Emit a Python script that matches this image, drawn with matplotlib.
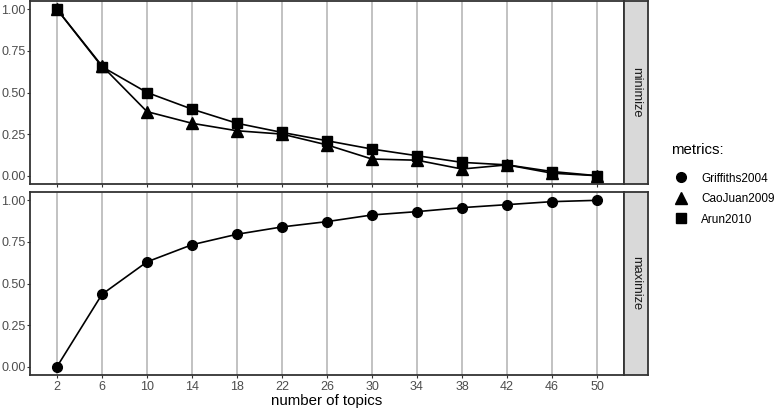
import matplotlib
matplotlib.use("Agg")
import matplotlib.pyplot as plt
from matplotlib.lines import Line2D

plt.rcParams['font.family'] = ['Liberation Sans', 'DejaVu Sans']

topics = [2, 6, 10, 14, 18, 22, 26, 30, 34, 38, 42, 46, 50]
griffiths2004 = [0.0, 0.435, 0.63, 0.733, 0.796, 0.84, 0.872, 0.912, 0.932, 0.956, 0.974, 0.992, 1.0]
caojuan2009 = [1.0, 0.66, 0.385, 0.315, 0.27, 0.25, 0.185, 0.10, 0.093, 0.04, 0.065, 0.015, 0.0]
arun2010 = [1.0, 0.655, 0.50, 0.40, 0.315, 0.26, 0.21, 0.16, 0.12, 0.08, 0.065, 0.025, 0.0]
yticks = [0.0, 0.25, 0.5, 0.75, 1.0]
ytick_labels = ["0.00", "0.25", "0.50", "0.75", "1.00"]
facets = ["minimize", "maximize"]
metric_names = ["Griffiths2004", "CaoJuan2009", "Arun2010"]

W, H = 778, 412
fig = plt.figure(figsize=(W / 100, H / 100), dpi=100)

def px(x0, y0, x1, y1):
    return [x0 / W, 1 - y1 / H, (x1 - x0) / W, (y1 - y0) / H]

panels = [(1, 184), (192, 375)]
border = "#333333"
grid_c = "#BDBDBD"

axes = []
for i, (y0, y1) in enumerate(panels):
    ax = fig.add_axes(px(30, y0, 624, y1))
    ax.set_xlim(-0.4, 52.4)
    ax.set_ylim(-0.05, 1.05)
    ax.set_yticks(yticks)
    ax.set_yticklabels(ytick_labels)
    ax.set_xticks(topics)
    ax.grid(axis='x', color=grid_c, linewidth=1.3, zorder=0)
    ax.set_axisbelow(True)
    for s in ax.spines.values():
        s.set_color(border)
        s.set_linewidth(1.3)
    ax.tick_params(axis='both', colors=border, length=2, width=0.8,
                   labelsize=9, labelcolor="#4D4D4D", pad=1.2)
    ax.tick_params(axis='x', pad=2)
    if i == 0:
        ax.tick_params(axis='x', labelbottom=False)
    axes.append(ax)
    sax = fig.add_axes(px(624, y0, 648, y1))
    sax.set_xticks([]); sax.set_yticks([])
    sax.set_facecolor("#D9D9D9")
    for s in sax.spines.values():
        s.set_color(border)
        s.set_linewidth(1.3)
    sax.text(0.5, 0.5, facets[i], rotation=-90, ha='center', va='center',
             fontsize=9.3, color="#1A1A1A", transform=sax.transAxes)

top, bot = axes
ms = 7
top.plot(topics, caojuan2009, color='black', lw=1.2, marker='^', ms=ms + 1, zorder=3)
top.plot(topics, arun2010, color='black', lw=1.2, marker='s', ms=ms - 0.3, zorder=3)
bot.plot(topics, griffiths2004, color='black', lw=1.2, marker='o', ms=ms, zorder=3)

bot.set_xlabel("number of topics", fontsize=10.8, color="black", labelpad=1)

fig.text(671 / W, 1 - 150 / H, "metrics:", fontsize=10.8, color="black",
         ha='left', va='center')
handles = [Line2D([], [], color='black', marker=m, linestyle='None', markersize=s)
           for m, s in zip(['o', '^', 's'], [ms, ms + 1, ms - 0.3])]
leg = fig.legend(handles, metric_names, loc='upper left',
                 bbox_to_anchor=(662 / W, 1 - 162 / H), frameon=False,
                 fontsize=8.5, handletextpad=0.9,
                 labelspacing=0.72, handlelength=1.5)

fig.savefig("out.png", dpi=100)
